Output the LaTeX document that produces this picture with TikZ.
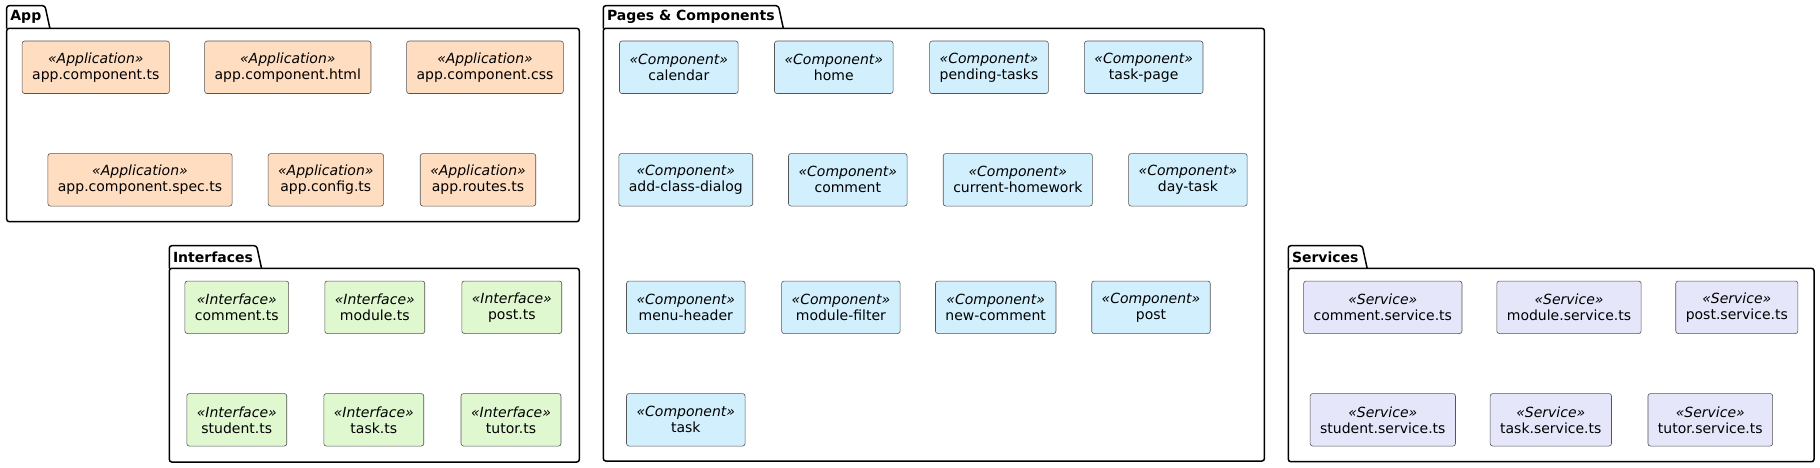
\documentclass[tikz,border=0pt]{standalone}
\usepackage{fontspec}
\setmainfont{DejaVu Sans}
\usepackage{tikz}

\definecolor{boxline}{HTML}{555555}
\definecolor{appfill}{HTML}{FFDDC1}
\definecolor{compfill}{HTML}{D1EFFD}
\definecolor{ifacefill}{HTML}{E0F8D0}
\definecolor{svcfill}{HTML}{E6E6FA}

\begin{document}
\begin{tikzpicture}[
    x=1pt, y=-1pt,
    filebox/.style={draw=boxline, line width=0.6pt, rounded corners=2.5pt, minimum height=52.5pt, inner xsep=10pt, inner ysep=2pt, align=center, font=\fontsize{14}{16}\selectfont},
    appbox/.style={filebox, fill=appfill},
    compbox/.style={filebox, fill=compfill},
    ifacebox/.style={filebox, fill=ifacefill},
    svcbox/.style={filebox, fill=svcfill},
    pkgtab/.style={anchor=north west, minimum height=22.6pt, inner xsep=3.5pt, inner ysep=0pt, font=\bfseries\fontsize{14}{16}\selectfont},
    pkg/.style={draw, line width=1.5pt, rounded corners=2.5pt}
]
    \useasboundingbox (0,0) rectangle (1820,468);
    \fill[white] (0,0) rectangle (1820,468);

    % Packages
    \node [pkgtab] (appTab) at (6.7,5.7) {App};
    \draw [pkg] (appTab.south west) |- (appTab.north east) -- ([xshift=5pt]appTab.south east);
    \draw [pkg] (6.7,28.3) rectangle (579.3,221.7);

    \node [pkgtab] (pagesTab) at (603.3,5.7) {Pages \& Components};
    \draw [pkg] (pagesTab.south west) |- (pagesTab.north east) -- ([xshift=5pt]pagesTab.south east);
    \draw [pkg] (603.3,28.3) rectangle (1264.4,461);

    \node [pkgtab] (ifaceTab) at (169.3,245.7) {Interfaces};
    \draw [pkg] (ifaceTab.south west) |- (ifaceTab.north east) -- ([xshift=5pt]ifaceTab.south east);
    \draw [pkg] (169.3,268.3) rectangle (579.3,462);

    \node [pkgtab] (svcTab) at (1288.3,245.7) {Services};
    \draw [pkg] (svcTab.south west) |- (svcTab.north east) -- ([xshift=5pt]svcTab.south east);
    \draw [pkg] (1288.3,268.3) rectangle (1814,461.7);

    % App
    \node [appbox] (appTs) at (95.8,67.3) {\textit{«Application»}\\app.component.ts};
    \node [appbox] (appHtml) at (287.8,67.3) {\textit{«Application»}\\app.component.html};
    \node [appbox] (appCss) at (485,67.3) {\textit{«Application»}\\app.component.css};
    \node [appbox] (appSpec) at (140,179.8) {\textit{«Application»}\\app.component.spec.ts};
    \node [appbox] (appConfig) at (325.8,179.8) {\textit{«Application»}\\app.config.ts};
    \node [appbox] (appRoutes) at (478,179.8) {\textit{«Application»}\\app.routes.ts};

    % Pages & Components
    \node [compbox] (calendar) at (678.8,67.3) {\textit{«Component»}\\calendar};
    \node [compbox] (home) at (833.8,67.3) {\textit{«Component»}\\home};
    \node [compbox] (pendingTasks) at (989,67.3) {\textit{«Component»}\\pending-tasks};
    \node [compbox] (taskPage) at (1143.7,67.3) {\textit{«Component»}\\task-page};
    \node [compbox] (addClass) at (685.8,179.8) {\textit{«Component»}\\add-class-dialog};
    \node [compbox] (comment) at (847.8,179.8) {\textit{«Component»}\\comment};
    \node [compbox] (currentHw) at (1017.8,179.8) {\textit{«Component»}\\current-homework};
    \node [compbox] (dayTask) at (1187.9,179.8) {\textit{«Component»}\\day-task};
    \node [compbox] (menuHeader) at (685.8,307.3) {\textit{«Component»}\\menu-header};
    \node [compbox] (moduleFilter) at (840.9,307.3) {\textit{«Component»}\\module-filter};
    \node [compbox] (newComment) at (995.7,307.3) {\textit{«Component»}\\new-comment};
    \node [compbox] (post) at (1151,307.3) {\textit{«Component»}\\post};
    \node [compbox] (task) at (685.8,419.8) {\textit{«Component»}\\task};

    % Interfaces
    \node [ifacebox] (commentTs) at (236.8,307.3) {\textit{«Interface»}\\comment.ts};
    \node [ifacebox] (moduleTs) at (374.8,307.3) {\textit{«Interface»}\\module.ts};
    \node [ifacebox] (postTs) at (511.8,307.3) {\textit{«Interface»}\\post.ts};
    \node [ifacebox] (studentTs) at (236.8,419.8) {\textit{«Interface»}\\student.ts};
    \node [ifacebox] (taskTs) at (373.8,419.8) {\textit{«Interface»}\\task.ts};
    \node [ifacebox] (tutorTs) at (511,419.8) {\textit{«Interface»}\\tutor.ts};

    % Services
    \node [svcbox] (commentSvc) at (1382.8,307.3) {\textit{«Service»}\\comment.service.ts};
    \node [svcbox] (moduleSvc) at (1569,307.3) {\textit{«Service»}\\module.service.ts};
    \node [svcbox] (postSvc) at (1736.8,307.3) {\textit{«Service»}\\post.service.ts};
    \node [svcbox] (studentSvc) at (1382.8,419.8) {\textit{«Service»}\\student.service.ts};
    \node [svcbox] (taskSvc) at (1550.8,419.8) {\textit{«Service»}\\task.service.ts};
    \node [svcbox] (tutorSvc) at (1710.3,419.8) {\textit{«Service»}\\tutor.service.ts};

\end{tikzpicture}
\end{document}
